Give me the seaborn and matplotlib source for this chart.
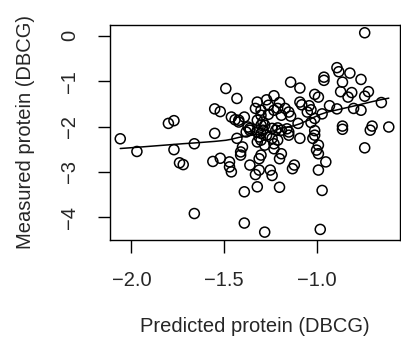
import numpy as np
import pandas as pd
import matplotlib
matplotlib.use("Agg")
import matplotlib.pyplot as plt
import seaborn as sns

predicted = [
    -2.06, -1.97, -1.80, -1.77, -1.77, -1.74, -1.72, -1.66, -1.66, -1.55,
    -1.56, -1.52, -1.47, -1.47, -1.46, -1.43, -1.49, -1.55, -1.52, -1.46,
    -1.44, -1.42, -1.39, -1.43, -1.32, -1.27, -1.33, -1.30, -1.26, -1.23,
    -1.20, -1.21, -1.17, -1.15, -1.19, -1.14, -1.30, -1.26, -1.29, -1.28,
    -1.32, -1.30, -1.29, -1.36, -1.38, -1.37, -1.21, -1.16, -1.19, -1.10,
    -1.14, -1.09, -0.96, -0.96, -0.89, -0.88, -0.82, -0.86, -0.76, -0.87,
    -0.81, -0.83, -0.72, -0.74, -0.65, -1.01, -0.99, -1.09, -1.08, -1.04,
    -1.03, -1.05, -0.93, -0.89, -0.80, -0.76, -0.97, -1.01, -1.03, -1.01,
    -0.86, -0.86, -0.70, -0.71, -0.61, -0.74, -1.09, -1.01, -1.02, -0.99,
    -1.00, -0.99, -0.95, -0.99, -0.74, -1.20, -0.97, -1.32, -1.39, -1.39,
    -1.28, -0.98, -1.12, -1.13, -1.24, -1.23, -1.23, -1.19, -1.20, -1.32,
    -1.30, -1.28, -1.40, -1.41, -1.41, -1.30, -1.31, -1.36, -1.33, -1.31,
    -1.25, -1.24, -1.36, -1.32, -1.30, -1.31, -1.27, -1.42, -1.15, -1.15,
    -1.24, -1.22, -1.21, -1.23,
]
measured = [
    -2.27, -2.55, -1.93, -1.87, -2.51, -2.80, -2.84, -3.92, -2.38, -2.15,
    -2.77, -2.70, -2.78, -2.89, -3.00, -2.26, -1.16, -1.61, -1.67, -1.79,
    -1.85, -1.86, -1.79, -1.38, -1.46, -1.41, -1.60, -1.64, -1.53, -1.32,
    -1.47, -1.60, -1.60, -1.68, -1.75, -1.77, -1.75, -1.73, -1.90, -1.97,
    -1.86, -1.97, -2.08, -2.04, -2.12, -2.01, -2.03, -2.05, -2.08, -1.93,
    -1.02, -1.15, -0.91, -0.98, -0.70, -0.79, -0.82, -1.02, -0.96, -1.23,
    -1.25, -1.35, -1.23, -1.33, -1.47, -1.29, -1.35, -1.46, -1.52, -1.54,
    -1.63, -1.68, -1.54, -1.61, -1.60, -1.64, -1.72, -1.82, -1.91, -2.09,
    -1.99, -2.06, -1.99, -2.08, -2.01, 0.07, -2.26, -2.19, -2.26, -2.41,
    -2.52, -2.60, -2.78, -2.96, -2.47, -3.34, -3.41, -3.33, -3.44, -4.13,
    -4.33, -4.27, -2.85, -2.93, -2.26, -2.38, -2.49, -2.60, -2.71, -2.34,
    -2.30, -2.41, -2.45, -2.56, -2.63, -2.63, -2.71, -2.85, -3.06, -2.96,
    -2.96, -3.08, -2.08, -2.12, -2.15, -2.23, -2.19, -1.90, -2.12, -2.19,
    -2.04, -2.08, -2.30, -1.64,
]
x_ticks = [-2.0, -1.5, -1.0]
y_ticks = [0, -1, -2, -3, -4]


def lowess(x, y, f=2/3, iters=3):
    # plain version of R's lowess(): local linear fit, tricube weights,
    # then bisquare robustness passes
    order = np.argsort(x, kind="mergesort")
    x = np.asarray(x, float)[order]
    y = np.asarray(y, float)[order]
    n = len(x)
    ns = max(min(int(f * n + 1e-7), n), 2)
    fit = np.zeros(n)
    rw = np.ones(n)
    for it in range(iters + 1):
        for i in range(n):
            d = np.abs(x - x[i])
            h = np.sort(d)[ns - 1]
            if h > 0:
                r = d / h
                w = np.where(r < 1, (1 - r ** 3) ** 3, 0.0)
            else:
                w = (d == 0).astype(float)
            w = w * rw
            sw = w.sum()
            xm = (w * x).sum() / sw
            ym = (w * y).sum() / sw
            sxx = (w * (x - xm) ** 2).sum()
            if sxx > 1e-12 * (x[-1] - x[0]) ** 2:
                b = (w * (x - xm) * (y - ym)).sum() / sxx
            else:
                b = 0.0
            fit[i] = ym + b * (x[i] - xm)
        if it == iters:
            break
        res = y - fit
        cmad = 6 * np.median(np.abs(res))
        if cmad == 0:
            break
        u = np.abs(res) / cmad
        rw = np.where(u < 1, (1 - u ** 2) ** 2, 0.0)
    return x, fit


df = pd.DataFrame({"predicted": predicted, "measured": measured})
lx, ly = lowess(df["predicted"].values, df["measured"].values)
smooth = pd.DataFrame({"predicted": lx, "measured": ly})

sns.set_style("white")
plt.rcParams["font.family"] = ["Liberation Sans", "DejaVu Sans"]

fig = plt.figure(figsize=(4.01, 3.41), dpi=100)
ax = fig.add_axes([0.2731, 0.2959, 0.7232, 0.6314])

sns.scatterplot(data=df, x="predicted", y="measured", ax=ax, marker="o",
                facecolors="none", edgecolor="black", s=52, linewidth=1.1)
sns.lineplot(data=smooth, x="predicted", y="measured", ax=ax, color="black",
             lw=1.1, estimator=None, sort=False)

# R style axis range: data range plus 4% on each side
xr = df["predicted"].max() - df["predicted"].min()
yr = df["measured"].max() - df["measured"].min()
ax.set_xlim(df["predicted"].min() - 0.04 * xr, df["predicted"].max() + 0.04 * xr)
ax.set_ylim(df["measured"].min() - 0.04 * yr, df["measured"].max() + 0.04 * yr)

ax.set_xticks(x_ticks)
ax.set_xticklabels([f"{v:.1f}".replace("-", "\u2212") for v in x_ticks])
ax.set_yticks(y_ticks)
ax.set_yticklabels([f"{v}".replace("-", "\u2212") for v in y_ticks], rotation=90, va="center")

for s in ax.spines.values():
    s.set_color("black")
    s.set_linewidth(1.0)

ax.tick_params(axis="both", direction="out", length=9, width=1.0, color="black",
               labelsize=14.5, pad=13, left=True, bottom=True)
ax.set_xlabel("Predicted protein (DBCG)", fontsize=14.5, labelpad=20)
ax.set_ylabel("Measured protein (DBCG)", fontsize=14.5, labelpad=18)

fig.savefig("out.png", dpi=100)
